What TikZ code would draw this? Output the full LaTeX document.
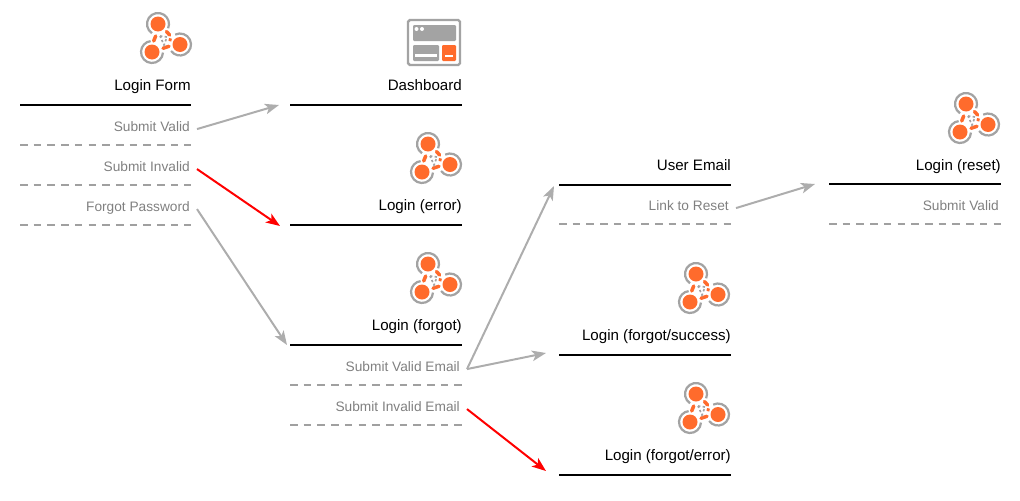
\documentclass[tikz,border=0pt]{standalone}
\usepackage{fontspec}
\setmainfont{Liberation Sans}
\usetikzlibrary{arrows.meta}
\definecolor{iconorange}{HTML}{FF6B2C}
\definecolor{icongray}{HTML}{A3A3A3}
\definecolor{labelgray}{HTML}{808080}
\definecolor{flowgray}{HTML}{ADADAD}
\definecolor{rulegray}{HTML}{A0A0A0}
\tikzset{
	title/.style={anchor=base east,inner sep=0pt,font=\fontsize{12.9}{15}\selectfont,text=black},
	event/.style={anchor=base east,inner ysep=0pt,inner xsep=6pt,text height=8pt,text depth=4.7pt,font=\fontsize{11.7}{14}\selectfont,text=labelgray},
	viewrule/.style={line width=1.4pt,black},
	eventrule/.style={line width=1.3pt,rulegray,dash pattern=on 6.5pt off 5.2pt},
	flow/.style={-{Stealth[length=12pt,width=9pt,inset=3pt]},line width=1.7pt,flowgray},
	errorflow/.style={flow,red},
	machine/.pic={
		\draw[icongray,line width=1.9pt] (-5,-16) ++(123:11) arc[start angle=123,end angle=383,radius=11];
		\draw[icongray,line width=1.9pt] (17,4.5) ++(244:11) arc[start angle=244,end angle=504,radius=11];
		\draw[icongray,line width=1.9pt] (-11,12) ++(3:11) arc[start angle=3,end angle=263,radius=11];
		\fill[iconorange] (-5,-16) circle[radius=7.5];
		\fill[iconorange] (17,4.5) circle[radius=7.5];
		\fill[iconorange] (-11,12) circle[radius=7.5];
		\draw[iconorange,line width=3pt,line cap=round] (-9.3,1) -- (-7.3,-4);
		\draw[iconorange,line width=3pt,line cap=round] (3.5,-8.5) -- (6.6,-5);
		\draw[iconorange,line width=3pt,line cap=round] (0,8.3) -- (6,6.3);
		\draw[iconorange,line width=3pt,line cap=round] (7,-0.5) -- (7.3,0);
		\draw[icongray,line width=1.4pt,dash pattern=on 2pt off 2pt] (-3,-4) -- (4,-3) -- (1,5) -- cycle;
	},
	dashicon/.pic={
		\draw[icongray,line width=2.1pt,rounded corners=1.5pt] (0,0) rectangle (52,45);
		\fill[icongray,rounded corners=1pt] (5,5) rectangle (48,21);
		\fill[white] (8.5,9) circle[radius=2];
		\fill[white] (14,9) circle[radius=2];
		\fill[icongray,rounded corners=1pt] (5,25) rectangle (31,41);
		\fill[white] (7,34) rectangle (29,37);
		\fill[iconorange,rounded corners=1pt] (34,25) rectangle (48,41);
		\fill[white] (37,35) rectangle (45,37);
	}
}
\begin{document}
\begin{tikzpicture}[x=0.03cm,y=-0.03cm]
	\useasboundingbox (0,0) rectangle (1020,500);

	% first column
	\pic at (163,40) {machine};
	\node[title] (loginform) at (191,90) {Login Form};
	\draw[viewrule] (20,105) -- (191,105);
	\node[event] (submitvalid) at (197,131) {Submit Valid};
	\draw[eventrule] (20,145) -- (191,145);
	\node[event] (submitinvalid) at (197,171) {Submit Invalid};
	\draw[eventrule] (20,185) -- (191,185);
	\node[event] (forgotpassword) at (197,211) {Forgot Password};
	\draw[eventrule] (20,225) -- (191,225);

	% second column
	\pic at (408,20) {dashicon};
	\node[title] (dashboard) at (462,90) {Dashboard};
	\draw[viewrule] (290,105) -- (462,105);
	\pic at (433,160) {machine};
	\node[title] (loginerror) at (462,210) {Login (error)};
	\draw[viewrule] (290,225) -- (462,225);
	\pic at (433,280) {machine};
	\node[title] (loginforgot) at (462,330) {Login (forgot)};
	\draw[viewrule] (290,345) -- (462,345);
	\node[event] (submitvalidemail) at (467,371) {Submit Valid Email};
	\draw[eventrule] (290,385) -- (462,385);
	\node[event] (submitinvalidemail) at (467,411) {Submit Invalid Email};
	\draw[eventrule] (290,425) -- (462,425);

	% third column
	\node[title] (useremail) at (731,170) {User Email};
	\draw[viewrule] (559,185) -- (731,185);
	\node[event] (linktoreset) at (736,210) {Link to Reset};
	\draw[eventrule] (559,224) -- (731,224);
	\pic at (701,290) {machine};
	\node[title] (forgotsuccess) at (731,340) {Login (forgot/success)};
	\draw[viewrule] (559,355) -- (731,355);
	\pic at (701,410) {machine};
	\node[title] (forgoterror) at (731,460) {Login (forgot/error)};
	\draw[viewrule] (559,475) -- (731,475);

	% fourth column
	\pic at (971,120) {machine};
	\node[title] (loginreset) at (1001,170) {Login (reset)};
	\draw[viewrule] (829,184) -- (1001,184);
	\node[title,font=\fontsize{11.7}{14}\selectfont,text=labelgray] (resetvalid) at (999,210) {Submit Valid};
	\draw[eventrule] (829,224) -- (1001,224);

	% arrow ends
	\coordinate (todashboard) at (279,105);
	\coordinate (toerror) at (280,226);
	\coordinate (toforgot) at (287,345);
	\coordinate (toemail) at (554,186);
	\coordinate (tosuccess) at (546,353);
	\coordinate (toforgoterror) at (546,471);
	\coordinate (toreset) at (815,184);

	\draw[flow] (submitvalid.east) -- (todashboard);
	\draw[errorflow] (submitinvalid.east) -- (toerror);
	\draw[flow] (forgotpassword.east) -- (toforgot);
	\draw[flow] (submitvalidemail.east) -- (toemail);
	\draw[flow] (submitvalidemail.east) -- (tosuccess);
	\draw[errorflow] (submitinvalidemail.east) -- (toforgoterror);
	\draw[flow] (linktoreset.east) -- (toreset);
\end{tikzpicture}
\end{document}
